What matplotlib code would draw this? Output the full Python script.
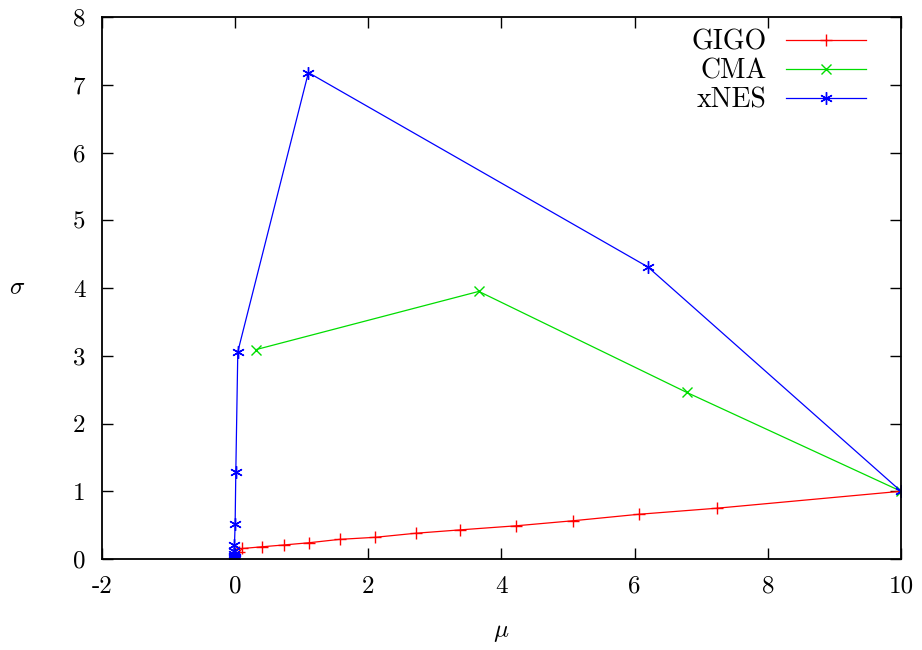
import numpy as np
import matplotlib
matplotlib.use("Agg")
import matplotlib.pyplot as plt

# search trajectories in the (mu, sigma) plane
gigo_mu = [10.0, 7.24, 6.06, 5.08, 4.22, 3.38, 2.71, 2.10, 1.57, 1.11, 0.73, 0.40, 0.11, 0.06]
gigo_sigma = [1.0, 0.75, 0.66, 0.565, 0.49, 0.43, 0.38, 0.32, 0.29, 0.24, 0.207, 0.18, 0.155, 0.11]

cma_mu = [10.0, 6.78, 3.66, 0.31]
cma_sigma = [1.0, 2.46, 3.95, 3.09]

xnes_mu = [10.0, 6.20, 1.10, 0.04, 0.01, 0.0, -0.01, -0.01, -0.015, -0.01, -0.005, -0.01, 0.0, 0.0]
xnes_sigma = [1.0, 4.31, 7.18, 3.06, 1.28, 0.52, 0.21, 0.12, 0.08, 0.05, 0.03, 0.02, 0.01, 0.0]

xticks = [-2, 0, 2, 4, 6, 8, 10]
yticks = [0, 1, 2, 3, 4, 5, 6, 7, 8]

plt.rcParams['font.family'] = 'cmr10'
plt.rcParams['mathtext.fontset'] = 'cm'
plt.rcParams['axes.unicode_minus'] = False
plt.rcParams['axes.formatter.use_mathtext'] = False

fig = plt.figure(figsize=(9.22, 6.5), dpi=100)
ax = fig.add_axes([0.1106, 0.14, 0.8666, 0.8338])

ax.plot(gigo_mu, gigo_sigma, color='#ff0000', lw=0.9, marker='+', ms=9, mew=1.0, label='GIGO')
ax.plot(cma_mu, cma_sigma, color='#00dd00', lw=0.9, marker='x', ms=7, mew=1.0, label='CMA')
ax.plot(xnes_mu, xnes_sigma, color='#0000ff', lw=0.9, marker=(6, 2, 0), ms=9, mew=1.0, label='xNES')

ax.set_xlim(-2, 10)
ax.set_ylim(0, 8)
ax.set_xticks(xticks)
ax.set_yticks(yticks)
ax.set_xticklabels([str(t) for t in xticks])
ax.set_yticklabels([str(t) for t in yticks])
ax.tick_params(direction='in', length=8, width=1.0, top=True, right=True,
               labelsize=18, pad=12)
for s in ax.spines.values():
    s.set_linewidth(1.3)

ax.set_xlabel(r'$\mu$', fontsize=18, labelpad=17)
ax.set_ylabel(r'$\sigma$', fontsize=18, rotation=0, labelpad=40, va='center')

ax.legend(loc='upper right', bbox_to_anchor=(0.967, 0.993), frameon=False,
          markerfirst=False, fontsize=20, handlelength=2.9, handletextpad=0.68,
          labelspacing=0.1, borderaxespad=0.0, borderpad=0.3)

fig.savefig('out.png', dpi=100)
